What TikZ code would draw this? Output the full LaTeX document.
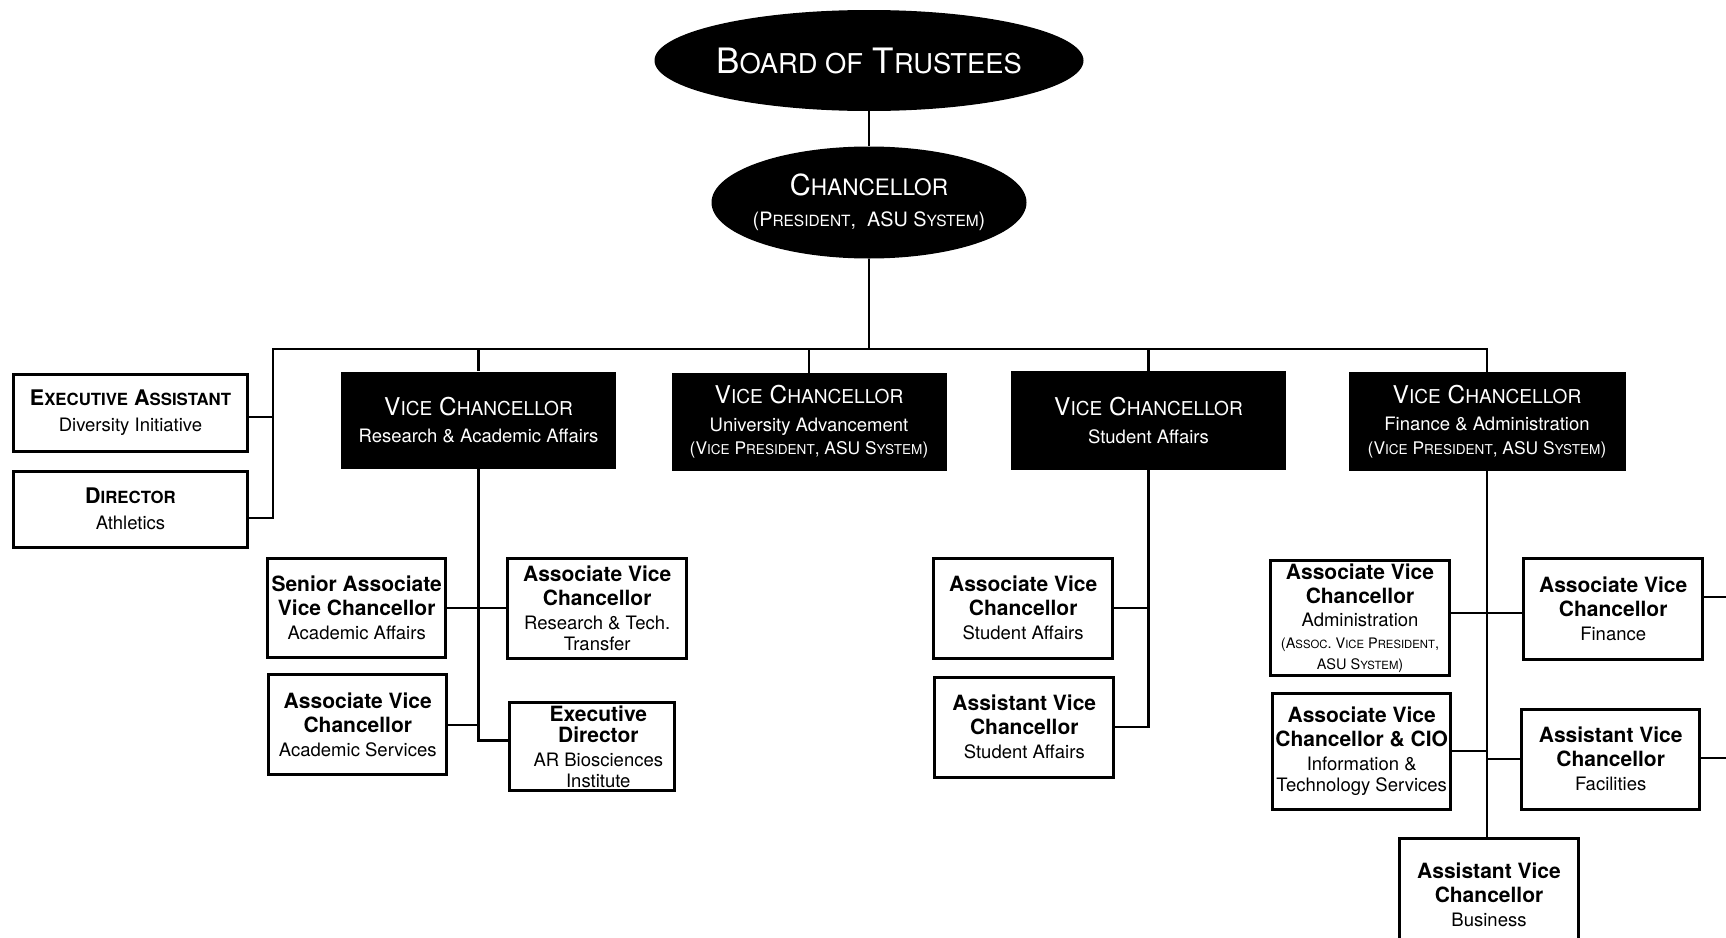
\documentclass[tikz,border=0pt]{standalone}
\usepackage{fontspec}
\setmainfont{TeX Gyre Heros}
\newfontfamily\scf[Scale=0.78]{TeX Gyre Heros}
\newcommand\sub{\mdseries\fontsize{18.5}{21}\selectfont}
\newcommand\vpsub{\mdseries\fontsize{17.4}{20}\selectfont}
\newcommand\smalltxt{\mdseries\fontsize{14.5}{17}\selectfont}
\newcommand\ind{\hspace*{12pt}}
\usetikzlibrary{shapes.geometric}
\begin{document}
\begin{tikzpicture}[x=1pt,y=-1pt,
  conn/.style={line width=2.3pt},
  stub/.style={line width=1.6pt},
  oval/.style={ellipse,fill=black,text=white,inner sep=0pt,align=center},
  vcbox/.style={fill=black,text=white,minimum width=275pt,minimum height=97pt,inner sep=0pt,align=center,font=\fontsize{24.5}{27.5}\selectfont},
  subbox/.style={draw=black,line width=3pt,fill=white,inner sep=0pt,align=center,minimum width=179pt,minimum height=100pt,font=\fontsize{21}{24}\selectfont\bfseries},
  lbox/.style={draw=black,line width=3pt,fill=white,inner sep=0pt,align=center,minimum width=234pt,font=\fontsize{21.5}{26}\selectfont\bfseries}]
\clip (0,0) rectangle (1726,937);
\fill[white] (0,0) rectangle (1726,937);

% top ovals
\node[oval,inner xsep=-30pt,minimum width=429pt,minimum height=101pt,font=\fontsize{35}{40}\selectfont] (board) at (869,60.5) {B{\scf OARD OF} T{\scf RUSTEES}};
\node[oval,inner xsep=-30pt,minimum width=315pt,minimum height=112pt,font=\fontsize{29}{31}\selectfont] (chan) at (869,202.5) {C{\scf HANCELLOR}\\{\fontsize{19.8}{22}\selectfont (P{\scf RESIDENT},\ \ ASU S{\scf YSTEM})}};

% left boxes
\node[lbox,minimum height=77pt] (ea) at (130.5,412.8) {E{\scf XECUTIVE} A{\scf SSISTANT}\\{\sub Diversity Initiative}};
\node[lbox,minimum height=76pt] (dir) at (130.5,509.1) {D{\scf IRECTOR}\\{\sub Athletics}};

% vice chancellors
\node[vcbox] (vc1) at (478.5,420) {V{\scf ICE} C{\scf HANCELLOR}\\{\sub Research \& Academic Affairs}};
\node[vcbox,minimum height=98pt] (vc2) at (809,422) {V{\scf ICE} C{\scf HANCELLOR}\\{\sub University Advancement}\\[-4pt]{\vpsub (V{\scf ICE} P{\scf RESIDENT}, ASU S{\scf YSTEM})}};
\node[vcbox,minimum height=99pt] (vc3) at (1148.5,420.5) {V{\scf ICE} C{\scf HANCELLOR}\\{\sub Student Affairs}};
\node[vcbox,minimum height=99pt,minimum width=277pt] (vc4) at (1487,421.5) {V{\scf ICE} C{\scf HANCELLOR}\\{\sub Finance \& Administration}\\[-4pt]{\vpsub (V{\scf ICE} P{\scf RESIDENT}, ASU S{\scf YSTEM})}};

% research subtree
\node[subbox,minimum width=178pt,minimum height=99pt] (savc) at (356.7,607.7) {Senior Associate\\Vice Chancellor\\{\sub Academic Affairs}};
\node[subbox] (rtt) at (597.2,608.2) {Associate Vice\\Chancellor\\{\sub Research \& Tech.}\\[-3pt]{\sub Transfer}};
\node[subbox,minimum width=178pt] (acs) at (357.8,724.9) {Associate Vice\\Chancellor\\{\sub Academic Services}};
\node[subbox,minimum width=165pt,minimum height=88pt] (ed) at (592.3,746.4) {\ind Executive\\[-3pt]\ind Director\\{\sub\ind AR Biosciences}\\[-3pt]{\sub\ind Institute}};

% student affairs subtree
\node[subbox] (avcsa) at (1023.2,608.2) {Associate Vice\\Chancellor\\{\sub Student Affairs}};
\node[subbox] (asvcsa) at (1024.3,727.1) {Assistant Vice\\Chancellor\\{\sub Student Affairs}};

% finance subtree
\node[subbox,minimum height=115.6pt] (admin) at (1360,618.1) {Associate Vice\\Chancellor\\[-1pt]{\sub Administration}\\[-2pt]{\smalltxt (A{\scf SSOC}. V{\scf ICE} P{\scf RESIDENT},}\\[-3pt]{\smalltxt ASU S{\scf YSTEM})}};
\node[subbox,minimum height=101pt] (avcf) at (1613.2,608.7) {Associate Vice\\Chancellor\\{\sub Finance}};
\node[subbox,minimum width=178.4pt,minimum height=115.6pt] (cio) at (1361.7,751.3) {Associate Vice\\Chancellor \& CIO\\{\sub Information \&}\\[-3pt]{\sub Technology Services}};
\node[subbox,minimum width=178.3pt] (fac) at (1610.7,759) {Assistant Vice\\Chancellor\\{\sub Facilities}};
\node[subbox,minimum height=112pt] (bus) at (1489,894.8) {Assistant Vice\\Chancellor\\{\sub Business}};

% connectors
\coordinate (bl) at (273,349);
\coordinate (redge) at (1730,0);
\coordinate (fy) at (0,613);
\draw[conn] (board) -- (chan);
\draw[conn] (chan.south) -- (chan.south |- bl);
\draw[conn] ([yshift=-4pt]ea.east) -- ([yshift=-4pt]ea.east -| bl);
\draw[conn] ([yshift=-9pt]dir.east) -| (bl) -- (vc4.north |- bl) -- (vc4.north);
\draw[conn] (vc1.north |- bl) -- (vc1.north);
\draw[conn] (vc2.north |- bl) -- (vc2.north);
\draw[conn] (vc3.north |- bl) -- (vc3.north);

\coordinate (edc) at ([yshift=6pt]ed.west);
\draw[conn] (vc1.south) -- (vc1.south |- edc) -- (edc);
\draw[conn] (savc.east) -- (savc.east -| rtt.west);
\draw[conn] (acs.east) -- (acs.east -| vc1.south);

\draw[conn] (vc3.south) -- (vc3.south |- asvcsa.east) -- (asvcsa.east);
\draw[conn] (avcsa.east) -- (avcsa.east -| vc3.south);

\draw[conn] (vc4.south) -- (vc4.south |- bus.north);
\draw[conn] (admin.east |- fy) -- (avcf.west |- fy);
\draw[conn] (cio.east) -- (cio.east -| vc4.south);
\draw[conn] (fac.west) -- (fac.west -| vc4.south);
\coordinate (fs) at ([yshift=12pt]avcf.east);
\draw[stub] (fs) -- (fs -| redge);
\draw[stub] ([yshift=1pt]fac.east) -- ([yshift=1pt]fac.east -| redge);
\end{tikzpicture}
\end{document}
